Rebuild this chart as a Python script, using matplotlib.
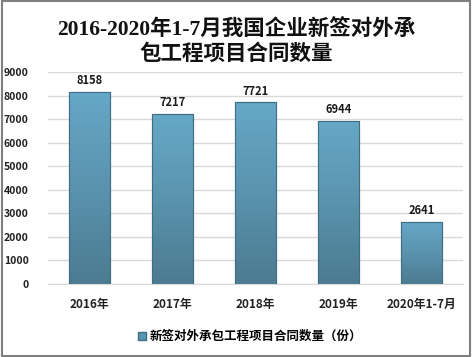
import matplotlib
matplotlib.use("Agg")
import matplotlib.pyplot as plt
import numpy as np
from matplotlib.colors import LinearSegmentedColormap
from matplotlib.patches import Rectangle

plt.rcParams['font.family'] = ['Noto Sans CJK SC', 'DejaVu Sans']

categories = ['2016年', '2017年', '2018年', '2019年', '2020年1-7月']
values = [8158, 7217, 7721, 6944, 2641]
yticks = [0, 1000, 2000, 3000, 4000, 5000, 6000, 7000, 8000, 9000]
title = '2016-2020年1-7月我国企业新签对外承\n包工程项目合同数量'
legend_label = '新签对外承包工程项目合同数量（份）'

fig = plt.figure(figsize=(4.72, 3.57), dpi=100)
fig.patches.append(Rectangle((0.004, 0.004), 0.992, 0.992, transform=fig.transFigure,
                             fill=False, edgecolor='#808080', linewidth=1.5))
ax = fig.add_axes([0.102, 0.2045, 0.879, 0.5935])

x = np.arange(len(categories))
bars = ax.bar(x, values, width=0.5, color='#5A96B2', edgecolor='#3F6E84', linewidth=0.8,
              zorder=2, label=legend_label)

cmap = LinearSegmentedColormap.from_list('g', ['#4C7B90', '#5A93AE', '#66A8C7'])
grad = np.linspace(0, 1, 256).reshape(-1, 1)
for b in bars:
    x0, y0 = b.get_x(), b.get_y()
    w, h = b.get_width(), b.get_height()
    im = ax.imshow(grad, extent=[x0, x0 + w, y0, y0 + h], origin='lower', cmap=cmap,
                   aspect='auto', zorder=2.5)
    im.set_clip_path(b)
    ax.add_patch(Rectangle((x0, y0), w, h, fill=False, edgecolor='#3F6E84', linewidth=0.8, zorder=3))

for xi, v in zip(x, values):
    ax.text(xi, v + 200, str(v), ha='center', va='bottom', fontsize=8, fontweight='bold',
            color='#1a1a1a')

ax.set_xlim(-0.5, len(categories) - 0.5)
ax.set_ylim(0, 9000)
ax.set_yticks(yticks)
ax.set_yticklabels([str(t) for t in yticks], fontsize=7.5, fontweight='bold', color='#222222')
ax.set_xticks(x)
ax.set_xticklabels(categories, fontsize=8.5, fontweight='bold', color='#222222')
ax.tick_params(axis='both', length=0)
ax.tick_params(axis='x', pad=10)
ax.tick_params(axis='y', pad=14)
ax.grid(axis='y', color='#D9D9D9', linewidth=1, zorder=0)
ax.set_axisbelow(True)
for s in ['top', 'right', 'left']:
    ax.spines[s].set_visible(False)
ax.spines['bottom'].set_color('#D9D9D9')

fig.text(0.5, 0.882, title, ha='center', va='center', fontsize=15.5, fontweight='bold',
         linespacing=1.25, color='#111111', family=['Liberation Serif', 'Noto Sans CJK SC'])

leg = fig.legend(handles=[Rectangle((0, 0), 1, 1, facecolor='#5A96B2', edgecolor='#3F6E84')],
                 labels=[legend_label], loc='center', bbox_to_anchor=(0.53, 0.057), frameon=False,
                 handlelength=0.6, handleheight=0.6, handletextpad=0.3,
                 prop={'size': 9, 'weight': 'bold'})

fig.savefig('out.png', dpi=100)
